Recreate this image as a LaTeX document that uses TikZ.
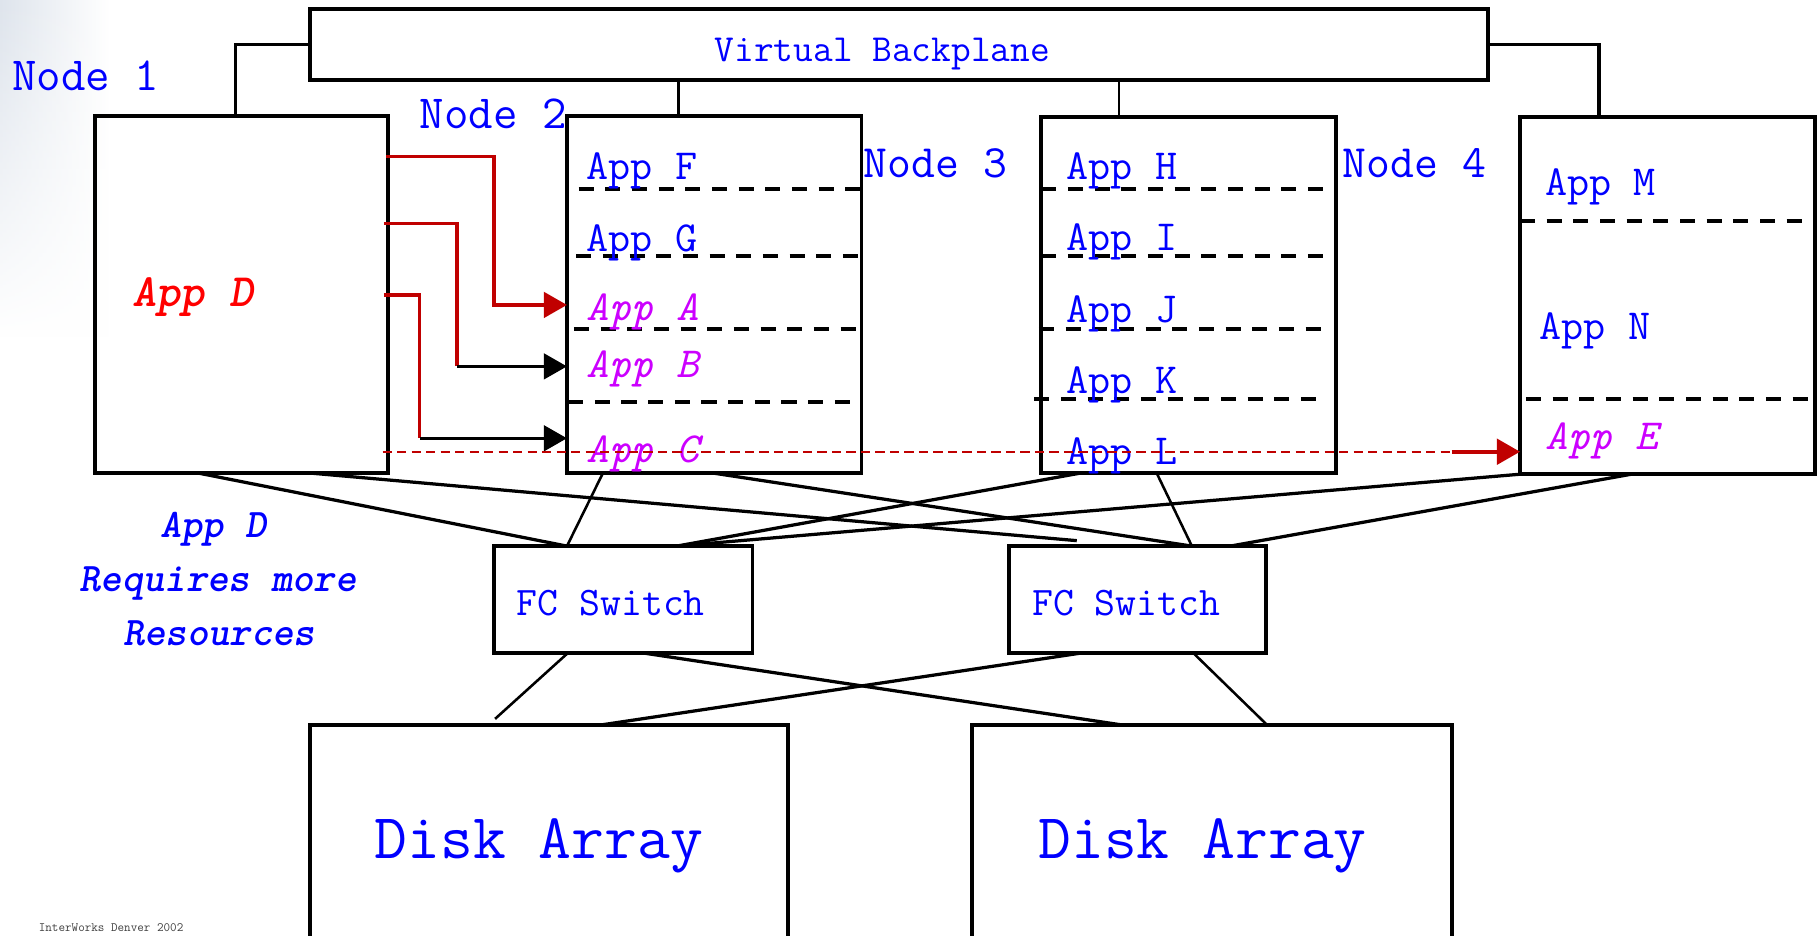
\documentclass[tikz,border=0pt]{standalone}
\usepackage{fontspec}
\usetikzlibrary{arrows.meta,calc,fadings}
\definecolor{ablue}{RGB}{0,0,255}
\definecolor{amag}{RGB}{204,0,255}
\definecolor{lred}{RGB}{192,0,0}
\definecolor{tred}{RGB}{255,0,0}
\definecolor{bgst}{RGB}{222,228,236}
\newcommand{\fsz}[1]{\fontsize{#1}{#1}\selectfont}
\begin{document}
\begin{tikzpicture}[x=1pt,y=-1pt,
  boxst/.style={draw=black, line width=3.4pt, inner sep=0pt, outer sep=0pt, anchor=north west, rectangle},
  conn/.style={draw=black, line width=2.8pt},
  thinconn/.style={draw=black, line width=2.2pt},
  partline/.style={draw=black, line width=3.4pt, dash pattern=on 13pt off 10pt},
  txt/.style={inner sep=0pt, outer sep=0pt, anchor=base west, text=ablue, font=\ttfamily\fsz{37}},
  mag/.style={txt, text=amag, font=\ttfamily\itshape\fsz{37}},
  nodelbl/.style={txt, font=\ttfamily\fsz{41}},
  boldit/.style={txt, font=\ttfamily\fontseries{b}\fontshape{sl}\fsz{35}},
  redln/.style={draw=lred, line width=3pt},
  blkln/.style={draw=black, line width=3pt},
  tipst/.style={-{Triangle[length=20pt,width=22pt]}},
]
\useasboundingbox (0,0) rectangle (1568,807);
\begin{scope}
\clip (0,0) rectangle (1568,807);
\fill[white] (0,0) rectangle (1568,807);
\shade[left color=bgst, right color=white, path fading=south] (0,0) rectangle (95,290);

% boxes
\node[boxst, minimum width=1016pt, minimum height=61pt] (bp) at (267,8) {};
\node[boxst, minimum width=253pt, minimum height=308pt] (n1) at (82,100) {};
\node[boxst, minimum width=254pt, minimum height=308pt] (n2) at (489,100) {};
\node[boxst, minimum width=254pt, minimum height=307pt] (n3) at (898,101) {};
\node[boxst, minimum width=254pt, minimum height=308pt] (n4) at (1311,101) {};
\node[boxst, minimum width=223pt, minimum height=92pt] (sw1) at (426,471) {};
\node[boxst, minimum width=222pt, minimum height=92pt] (sw2) at (870,471) {};
\node[boxst, minimum width=413pt, minimum height=220pt] (d1) at (267,625) {};
\node[boxst, minimum width=414pt, minimum height=220pt] (d2) at (838,625) {};

% backplane connectors
\coordinate (bpa) at ([xshift=318pt]bp.south west);
\coordinate (bpb) at ([xshift=698pt]bp.south west);
\draw[conn] (bp.west) -| ([xshift=121pt]n1.north west);
\draw[conn] (bp.east) -| ([xshift=68pt]n4.north west);
\draw[thinconn] (bpa) -- (bpa |- n2.north);
\draw[thinconn] (bpb) -- (bpb |- n3.north);

% node to switch connectors
\draw[conn] ([xshift=89pt]n1.south west) -- ([xshift=63pt]sw1.north west);
\draw[conn] ([xshift=185.5pt]n1.south west) -- ([xshift=58.7pt,yshift=4.7pt]sw2.north west);
\draw[thinconn] ([xshift=31pt]n2.south west) -- ([xshift=63pt]sw1.north west);
\draw[conn] ([xshift=126pt]n2.south west) -- ([xshift=158pt]sw2.north west);
\draw[conn] ([xshift=34pt]n3.south west) -- ([xshift=157.6pt]sw1.north west);
\draw[thinconn] ([xshift=99.6pt]n3.south west) -- ([xshift=158pt]sw2.north west);
\draw[conn] (n4.south west) -- ([xshift=157.6pt]sw1.north west);
\draw[conn] ([xshift=96pt]n4.south west) -- ([xshift=191pt]sw2.north west);

% switch to disk connectors
\draw[thinconn] ([xshift=64pt]sw1.south west) -- ([xshift=160pt,yshift=5pt]d1.north west);
\draw[conn] ([xshift=127.5pt]sw1.south west) -- ([xshift=128pt]d2.north west);
\draw[conn] ([xshift=64pt]sw2.south west) -- ([xshift=253pt]d1.north west);
\draw[thinconn] ([xshift=159pt]sw2.south west) -- ([xshift=254.6pt]d2.north west);

% partition lines
\draw[partline] (499,163) -- (743,163);
\draw[partline] (497,221) -- (743,221);
\draw[partline] (495,284) -- (743,284);
\draw[partline] (490,346.7) -- (735,346.7);
\draw[partline] (898,163) -- (1144,163);
\draw[partline] (898,221) -- (1144,221);
\draw[partline] (896,284) -- (1142,284);
\draw[partline] (892,344) -- (1137,344);
\draw[partline] (1311,190.4) -- (1558,190.4);
\draw[partline] (1316,344) -- (1565,344);

% texts
\node[txt, font=\ttfamily\fsz{33}, anchor=base] (tbp) at (761,53.2) {Virtual Backplane};
\node[nodelbl] (l1) at (10.6,78.2) {Node 1};
\node[nodelbl] (l2) at (362,110.7) {Node 2};
\node[nodelbl, font=\ttfamily\fsz{40}] (l3) at (745,153) {Node 3};
\node[nodelbl, font=\ttfamily\fsz{40}] (l4) at (1158,153) {Node 4};

\node[txt] (af) at (506,155) {App F};
\node[txt] (ag) at (506,216.5) {App G};
\node[mag] (aa) at (506,276) {App A};
\node[mag] (ab) at (506,326) {App B};
\node[mag] (ac) at (506,398.5) {App C};

\node[txt] (ah) at (920,155) {App H};
\node[txt] (ai) at (920,216) {App I};
\node[txt] (aj) at (920,278) {App J};
\node[txt] (ak) at (920,339) {App K};
\node[txt] (al) at (920,401) {App L};

\node[txt] (am) at (1333,169) {App M};
\node[txt] (an) at (1328,292.5) {App N};
\node[mag] (ae) at (1333,388) {App E};

\node[boldit, text=tred, font=\ttfamily\fontseries{b}\fontshape{sl}\fsz{40}] (appd) at (114,264) {App D};
\node[boldit, anchor=base] (rq1) at (184,463.4) {App D};
\node[boldit, anchor=base] (rq2) at (188,510.4) {Requires more};
\node[boldit, anchor=base] (rq3) at (189,557) {Resources};

\node[txt, font=\ttfamily\fsz{35}] (fc1) at (445.7,531) {FC Switch};
\node[txt, font=\ttfamily\fsz{35}] (fc2) at (890.3,531) {FC Switch};
\node[txt, font=\ttfamily\fsz{55}] (da1) at (323,740) {Disk Array};
\node[txt, font=\ttfamily\fsz{55}] (da2) at (895.6,740) {Disk Array};
\node[txt, text=black!75, font=\ttfamily\fsz{11}] (foot) at (33.5,803) {InterWorks Denver 2002};

% migration arrows
\coordinate (r1s) at ([xshift=-2pt,yshift=-35pt]n1.north east);
\coordinate (r1e) at ([yshift=-163pt]n2.north west);
\draw[redln, tipst] (r1s) -| ([xshift=-63pt]r1e) -- (r1e);

\coordinate (r2s) at ([xshift=-4pt,yshift=-92.6pt]n1.north east);
\coordinate (r2e) at ([yshift=-216pt]n2.north west);
\coordinate (r2c) at ([xshift=-95pt]r2e);
\draw[redln] (r2s) -| (r2c);
\draw[blkln, tipst] (r2c) -- (r2e);

\coordinate (r3s) at ([xshift=-4pt,yshift=-154.5pt]n1.north east);
\coordinate (r3e) at ([yshift=-278pt]n2.north west);
\coordinate (r3c) at ([xshift=-127pt]r3e);
\draw[redln] (r3s) -| (r3c);
\draw[blkln, tipst] (r3c) -- (r3e);

\coordinate (eS) at ([xshift=-5pt,yshift=-289.6pt]n1.north east);
\coordinate (eE) at ([yshift=-288.6pt]n4.north west);
\coordinate (eC) at ([xshift=-59pt]eE);
\draw[lred, line width=1.4pt, dash pattern=on 8pt off 4.5pt] (eS) -- (eC);
\draw[redln, line width=3.2pt, tipst] (eC) -- (eE);
\end{scope}
\end{tikzpicture}
\end{document}
